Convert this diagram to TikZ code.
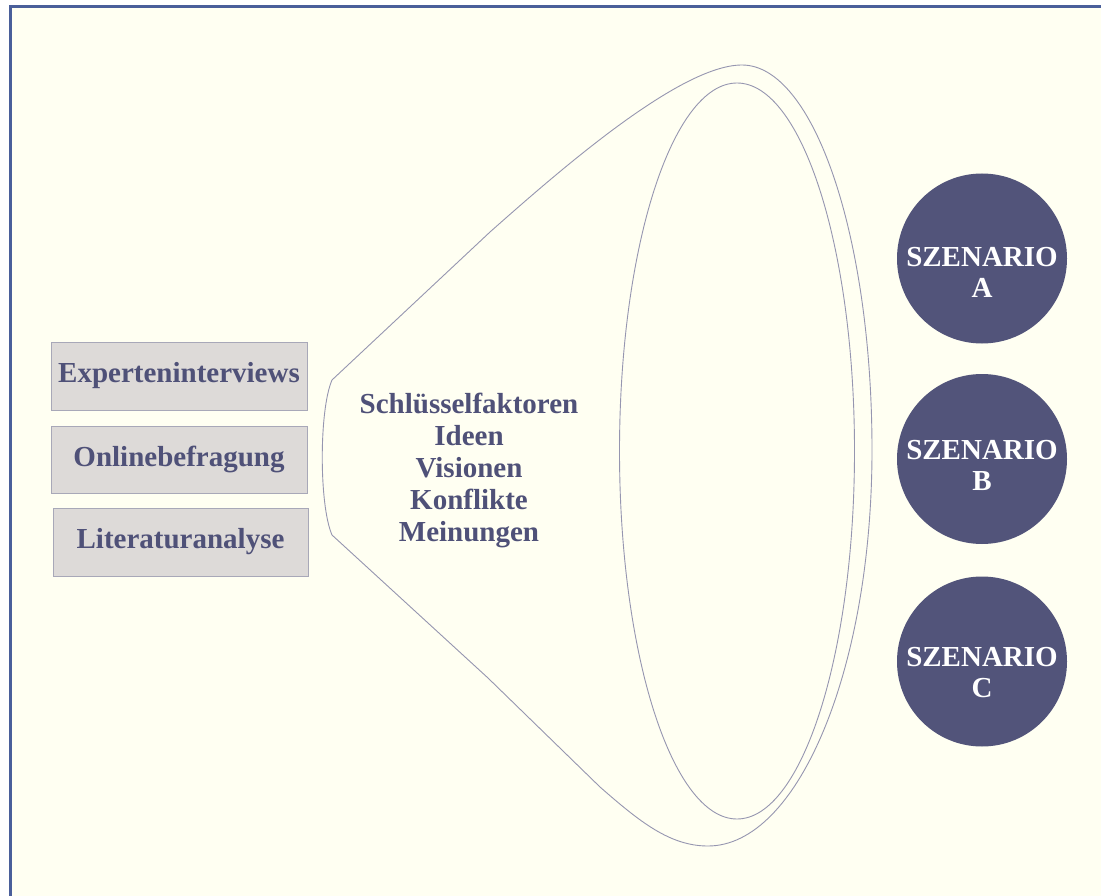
\documentclass[tikz,border=0pt]{standalone}
\usepackage{fontspec}
\setmainfont{Liberation Serif}
\begin{document}
\definecolor{paper}{RGB}{255,255,242}
\definecolor{frameblue}{RGB}{74,95,154}
\definecolor{ink}{RGB}{79,81,120}
\definecolor{boxfill}{RGB}{221,218,216}
\definecolor{boxline}{RGB}{168,168,184}
\definecolor{funnel}{RGB}{150,150,176}
\definecolor{scen}{RGB}{82,84,122}
\begin{tikzpicture}[x=1pt,y=-1pt,
  srcbox/.style={draw=boxline,fill=boxfill,line width=0.8pt,inner sep=0pt,
    font=\bfseries\fontsize{29}{31}\selectfont,text=ink},
  scenario/.style={circle,fill=scen,draw=none,minimum size=170pt,inner sep=0pt},
  scentext/.style={align=center,text=white,font=\bfseries\fontsize{29}{31}\selectfont},
  funnelline/.style={draw=funnel,line width=0.9pt}]
\useasboundingbox (0,0) rectangle (1101,896);
\fill[white] (0,0) rectangle (1101,896);
% framed sheet, running off the right and bottom edges
\draw[frameblue,fill=paper,line width=3pt] (10,7) rectangle (1120,915);

% sources
\node[srcbox,minimum width=256pt,minimum height=68pt] (exp) at (179,376) {Experteninterviews};
\node[srcbox,minimum width=256pt,minimum height=67pt] (onl) at (179,459.5) {Onlinebefragung};
\node[srcbox,minimum width=255pt,minimum height=68pt] (lit) at (180.5,542) {Literaturanalyse};

% funnel
\draw[funnelline] (332,535) .. controls (319,505) and (319,410) .. (332,380)
  -- (490,232)
  .. controls (560,170) and (680,65) .. (742,65)
  .. controls (814,65) and (872,237) .. (872,450)
  .. controls (872,669) and (798,846) .. (708,846)
  .. controls (670,846) and (640,822) .. (600,787)
  -- (488,678)
  -- cycle;
\draw[funnelline] (737,451) ellipse [x radius=117.5, y radius=368];

\node[align=center,text=ink,font=\bfseries\fontsize{29}{32}\selectfont] (keys) at (469,470)
  {Schlüsselfaktoren\\Ideen\\Visionen\\Konflikte\\Meinungen};

% scenarios
\node[scenario] (sa) at (982,258.5) {};
\node[scenario] (sb) at (982,459) {};
\node[scenario] (sc) at (982,661.5) {};
\node[scentext] (ta) at ([yshift=-14pt]sa.center) {SZENARIO\\A};
\node[scentext] (tb) at ([yshift=-6pt]sb.center) {SZENARIO\\B};
\node[scentext] (tc) at ([yshift=-11pt]sc.center) {SZENARIO\\C};
\end{tikzpicture}
\end{document}
